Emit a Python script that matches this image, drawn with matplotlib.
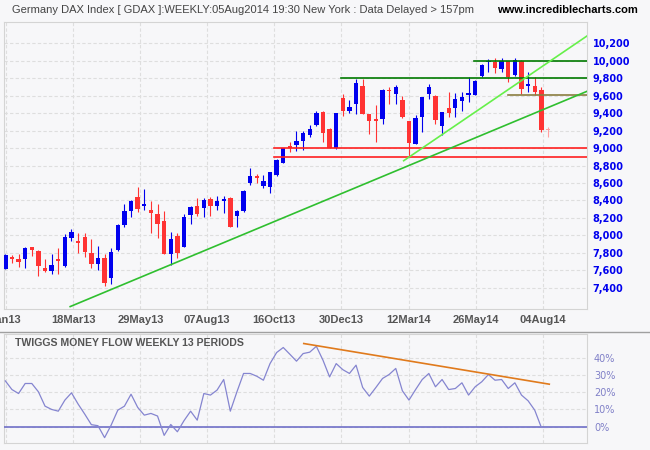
import matplotlib
matplotlib.use('Agg')
import matplotlib.pyplot as plt
from matplotlib.lines import Line2D
import numpy as np

# ---------------- data ----------------
opens = [7614, 7756, 7729, 7729, 7862, 7821, 7626, 7595, 7729, 7649,
         7973, 7927, 7985, 7794, 7668, 7744, 7515, 7832, 8118, 8283,
         8439, 8340, 8290, 8244, 8164, 7782, 7996, 7870, 8233, 8340,
         8309, 8416, 8340, 8397, 8432, 8221, 8283, 8603, 8676, 8565,
         8558, 8691, 8833, 9020, 9035, 9081, 9150, 9264, 9417, 9222,
         8997, 9569, 9424, 9505, 9711, 9390, 9329, 9333, 9669, 9619,
         9550, 9310, 9046, 9359, 9619, 9600, 9256, 9455, 9462, 9539,
         9611, 9608, 9829, 9982, 9990, 9902, 9997, 9837, 9997, 9715,
         9711, 9665, 9218]
highs = [7782, 7775, 7782, 7862, 7870, 7828, 7729, 7786, 7859, 8015,
         8076, 8023, 8023, 7954, 7878, 7782, 7851, 8126, 8355, 8405,
         8554, 8531, 8393, 8355, 8279, 8042, 8023, 8241, 8332, 8424,
         8424, 8439, 8450, 8450, 8439, 8290, 8519, 8771, 8699, 8691,
         8729, 8871, 9004, 9065, 9199, 9191, 9264, 9424, 9424, 9230,
         9405, 9619, 9550, 9787, 9787, 9390, 9489, 9673, 9695, 9718,
         9596, 9310, 9378, 9589, 9730, 9608, 9417, 9638, 9627, 9638,
         9810, 9780, 9959, 10020, 10028, 10028, 9997, 10028, 10009, 9867,
         9810, 9703, 9245]
lows = [7610, 7679, 7641, 7630, 7763, 7538, 7580, 7557, 7557, 7641,
        7939, 7794, 7748, 7630, 7603, 7423, 7439, 7824, 8099, 8214,
        8264, 8290, 8031, 7973, 7790, 7660, 7736, 7870, 8130, 8221,
        8206, 8225, 8290, 8252, 8099, 8099, 8271, 8577, 8603, 8546,
        8489, 8680, 8825, 8958, 8970, 8978, 9130, 9253, 9073, 8997,
        8990, 9367, 9405, 9390, 9390, 9161, 9073, 9275, 9505, 9505,
        9340, 8901, 9046, 9188, 9558, 9272, 9150, 9359, 9359, 9424,
        9531, 9608, 9818, 9875, 9856, 9875, 9760, 9829, 9615, 9646,
        9608, 9188, 9130]
closes = [7775, 7725, 7698, 7859, 7836, 7649, 7588, 7660, 7706, 7985,
          8038, 7916, 7805, 7668, 7744, 7458, 7809, 8118, 8279, 8397,
          8306, 8351, 8260, 8134, 7790, 7958, 7798, 8214, 8325, 8244,
          8409, 8340, 8397, 8420, 8099, 8283, 8508, 8680, 8661, 8623,
          8722, 8863, 8997, 9004, 9081, 9169, 9218, 9405, 9176, 9004,
          9405, 9428, 9470, 9741, 9390, 9314, 9306, 9665, 9653, 9699,
          9352, 9062, 9340, 9589, 9703, 9321, 9417, 9405, 9562, 9589,
          9627, 9772, 9951, 9997, 9921, 9997, 9810, 10009, 9673, 9722,
          9646, 9207, 9207]
tmf = [26.5, 21.5, 19.2, 25.0, 25.0, 20.2, 11.9, 10.0, 9.0, 15.4,
       19.6, 13.1, 7.3, 1.2, 0.6, -6.3, 1.0, 9.6, 11.9, 18.8,
       11.2, 6.7, 7.7, 6.2, -5.0, 1.3, -2.9, 3.5, 9.0, 3.8,
       19.2, 18.3, 21.2, 27.3, 9.0, 20.2, 30.8, 30.8, 29.2, 26.9,
       36.5, 42.9, 45.8, 41.9, 37.9, 42.3, 43.1, 46.5, 38.5, 28.8,
       36.5, 33.0, 30.8, 35.6, 22.7, 17.7, 22.7, 27.9, 30.2, 33.7,
       20.8, 15.4, 21.5, 27.3, 30.8, 23.1, 27.3, 21.5, 22.1, 25.4,
       18.3, 23.1, 26.0, 30.2, 26.9, 27.3, 22.1, 25.4, 18.3, 15.0,
       9.6, -0.4, -0.4]

x_labels = ['Jan13', '18Mar13', '29May13', '07Aug13', '16Oct13',
            '30Dec13', '12Mar14', '26May14', '04Aug14']
x_label_pos = [0.1, 10.3, 20.4, 30.5, 40.6, 50.8, 61.0, 71.1, 81.2]
price_ticks = list(range(7400, 10201, 200))
tmf_ticks = [0, 10, 20, 30, 40]

# horizontal support / resistance lines: (level, start bar, colour)
levels = [(9000, 40.6, '#ff2020'), (8895, 40.6, '#ff2020'),
          (9800, 50.7, '#007a00'), (10000, 70.8, '#007a00'),
          (9605, 75.9, '#8a7d40')]
# trend lines: (x0, y0, x1, y1, colour)
trends = [(9.8, 7184, 87.9, 9650, '#2fbf2f'),
          (60.2, 8855, 87.9, 10284, '#66f04a')]
tmf_trend = (45.1, 48.1, 82.2, 24.6)

# ---------------- figure ----------------
BG = '#f7f7f9'
fig = plt.figure(figsize=(6.5, 4.5), dpi=100, facecolor=BG)
W, H = 650.0, 450.0

def axrect(l, t, r, b):
    return [l / W, 1 - b / H, (r - l) / W, (b - t) / H]

ax = fig.add_axes(axrect(4, 22, 587, 308.5), facecolor=BG)
ax2 = fig.add_axes(axrect(4, 333.5, 587, 443), facecolor=BG)

xmin, xmax = -0.2, 87.9

for a in (ax, ax2):
    for s in a.spines.values():
        s.set_color('#d4d4d4')
        s.set_linewidth(0.8)
    a.set_xlim(xmin, xmax)
    a.set_xticks(x_label_pos)
    a.grid(True, color='#dedede', linestyle=(0, (3, 2)), linewidth=0.8)
    a.set_axisbelow(True)
    a.yaxis.tick_right()
    a.tick_params(length=0)

# candles
x = np.arange(len(opens))
o = np.array(opens, float); c = np.array(closes, float)
h = np.array(highs, float); l = np.array(lows, float)
cols = np.where(c >= o, '#0000ee', '#ff3333').astype(object)
cols[-1] = '#ffa0a0'
ax.vlines(x, l, h, colors=cols, linewidth=0.8, zorder=3)
ax.bar(x, np.maximum(np.abs(c - o), 14), bottom=np.minimum(o, c),
       width=0.66, color=cols, edgecolor='none', zorder=4)

for lev, x0, col in levels:
    ax.plot([x0, xmax], [lev, lev], color=col, linewidth=1.2, zorder=5)
for x0, y0, x1, y1, col in trends:
    ax.plot([x0, x1], [y0, y1], color=col, linewidth=1.2, zorder=5)

ax.set_ylim(7162, 10444)
ax.set_yticks(price_ticks)
ax.set_yticklabels([f'{v:,}' for v in price_ticks], color='#0000ee',
                   fontweight='bold', fontsize=7, family='DejaVu Sans')
ax.tick_params(axis='y', pad=4)
ax.set_xticklabels(x_labels, color='#555555', fontweight='bold',
                   fontsize=8, family='Liberation Sans')
ax.tick_params(axis='x', pad=5)

# TMF panel
ax2.axhline(0, color='#7070c8', linewidth=1.2, zorder=3)
ax2.plot(x, tmf, color='#8585d0', linewidth=0.9, zorder=4)
ax2.plot([tmf_trend[0], tmf_trend[2]], [tmf_trend[1], tmf_trend[3]],
         color='#e07a1c', linewidth=1.2, zorder=5)
ax2.set_ylim(-9.4, 53.9)
ax2.set_yticks(tmf_ticks)
ax2.set_yticklabels([f'{v}%' for v in tmf_ticks], color='#8080c8',
                    fontsize=7, family='DejaVu Sans')
ax2.tick_params(axis='y', pad=5)
ax2.set_xticklabels([])
ax2.text(0.019, 0.955, 'TWIGGS MONEY FLOW WEEKLY 13 PERIODS',
         transform=ax2.transAxes, ha='left', va='top', fontsize=7.6,
         fontweight='bold', color='#555555', family='Liberation Sans')

# separator line between panels
fig.add_artist(Line2D([0, 1], [1 - 331.5 / H, 1 - 331.5 / H],
                      color='#a0a0a0', linewidth=1.0))

# titles
fig.text(12 / W, 1 - 10 / H,
         'Germany DAX Index [ GDAX ]:WEEKLY:05Aug2014 19:30 New York : Data Delayed > 157pm',
         ha='left', va='center', fontsize=8, color='#444444', family='Liberation Sans')
fig.text(638 / W, 1 - 10 / H, 'www.incrediblecharts.com', ha='right', va='center',
         fontsize=8, fontweight='bold', color='#000000', family='Liberation Sans')

fig.savefig('out.png', dpi=100, facecolor=BG)
